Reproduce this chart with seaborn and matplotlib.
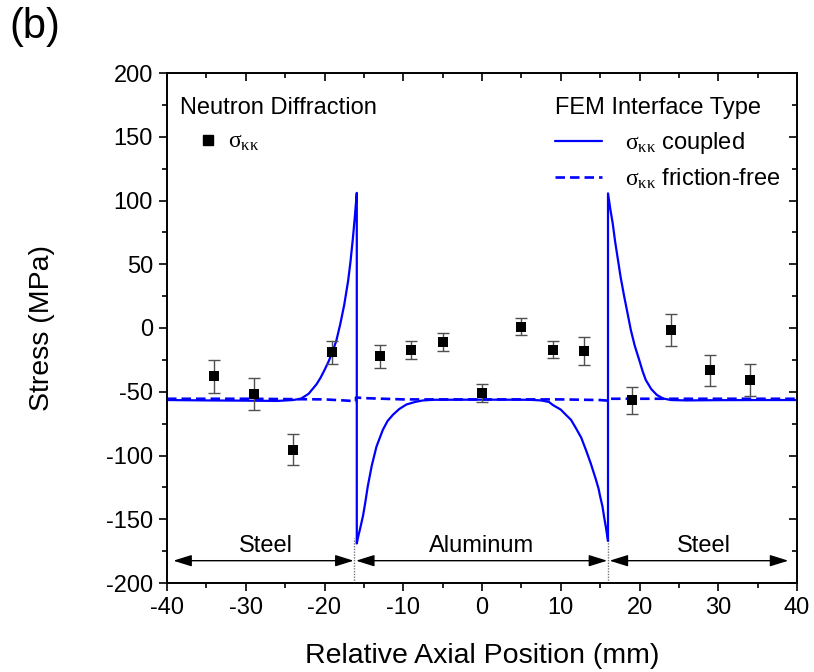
import numpy as np
import pandas as pd
import matplotlib
matplotlib.use("Agg")
import matplotlib.pyplot as plt
from matplotlib.lines import Line2D
import seaborn as sns

# ---- measured data (neutron diffraction) ----
nd_pos = [-34, -29, -24, -19, -13, -9, -5, 0, 5, 9, 13, 19, 24, 29, 34]
nd_stress = [-38.0, -51.6, -95.5, -19.1, -22.3, -17.5, -10.7, -51.0, 1.0, -17.0, -18.3, -56.8, -1.6, -33.2, -40.6]
nd_err = [12.8, 12.6, 12.3, 8.9, 9.3, 7.1, 7.1, 6.8, 6.8, 6.9, 11.1, 10.5, 12.3, 11.9, 12.7]

# ---- FEM, coupled interface ----
cpl_x = [-40, -35, -30, -26, -24, -23, -22, -21, -20.5, -20, -19.5, -19, -18.5, -18, -17.5, -17,
         -16.7, -16.4, -16.15, -15.9, -15.9, -15.7, -15.5, -15.1, -14.8, -14.5, -14.0, -13.4, -12.6,
         -12.0, -11.3, -10.5, -9.6, -8.5, -7.5, -6, 0, 6, 7.5, 8.5, 9, 10, 10.67, 11.3, 11.94, 12.6,
         13.2, 13.8, 14.47, 14.8, 15.0, 15.3, 15.5, 15.75, 16.0, 16.0, 16.3, 16.6, 16.9, 17.2, 17.6,
         18.06, 18.5, 18.9, 19.4, 19.96, 20.4, 20.8, 21.5, 22.2, 23, 24, 26, 30, 35, 40]
cpl_y = [-56.5, -56.8, -57.0, -57.2, -56.5, -55.5, -51.5, -44, -39, -33, -26.5, -19, -10, 3, 18, 37,
         52, 70, 87, 106, -169, -163, -158, -147, -136, -124, -108, -93, -80,
         -73, -68, -63.5, -60, -58, -56.8, -56.3, -56.2, -56.3, -56.8, -58, -60.4, -64, -68.2, -72,
         -78.7, -86, -95.7, -106, -119, -126, -132, -140, -148, -157, -167, 105.6, 93, 82, 68, 56, 40,
         24.6, 11, -1.6, -14, -25, -34, -40.8, -48, -52.5, -55.3, -56.5, -56.8, -56.6, -56.5, -56.5]

# ---- FEM, friction-free interface ----
ff_x = [-40, -30, -20, -17, -16.0, -16.0, -15, -10, 0, 10, 15, 16.0, 16.0, 20, 30, 40]
ff_y = [-55.5, -55.5, -56, -57, -57.5, -54.5, -55, -56, -56, -56, -56.5, -57, -55.5, -55.5, -55.5, -55.5]

# ---- material regions ----
region_names = ["Steel", "Aluminum", "Steel"]
region_start = [-39.2, -16.0, 16.2]
region_end = [-16.3, 15.9, 38.9]
region_label_x = [-27.5, 0, 28.2]
interfaces = [-16.2, 16.0]

sns.set_theme(style="white")
plt.rcParams["font.family"] = ["Liberation Sans", "DejaVu Sans"]
plt.rcParams["mathtext.fontset"] = "custom"
plt.rcParams["mathtext.rm"] = "Liberation Serif"
plt.rcParams["mathtext.it"] = "Liberation Serif"
plt.rcParams["mathtext.bf"] = "Liberation Serif:bold"
plt.rcParams["axes.unicode_minus"] = False
for k in ["text.color", "axes.labelcolor", "xtick.color", "ytick.color", "axes.edgecolor"]:
    plt.rcParams[k] = "black"

fig = plt.figure(figsize=(8.14, 6.72), dpi=100)
ax = fig.add_axes([167 / 814, 1 - 583 / 672, 630 / 814, 510 / 672])

blue = "#0000ff"
df_c = pd.DataFrame({"x": cpl_x, "y": cpl_y})
df_f = pd.DataFrame({"x": ff_x, "y": ff_y})
sns.lineplot(data=df_c, x="x", y="y", sort=False, estimator=None, color=blue, lw=1.6, ax=ax, zorder=2)
sns.lineplot(data=df_f, x="x", y="y", sort=False, estimator=None, color=blue, lw=1.9, ax=ax, zorder=2)
ax.get_lines()[-1].set_dashes([3.6, 1.9])

ax.errorbar(nd_pos, nd_stress, yerr=nd_err, fmt="none", ecolor="#505050", elinewidth=1.0,
            capsize=4, capthick=1.0, zorder=3)
sns.scatterplot(x=nd_pos, y=nd_stress, marker="s", s=62, color="black", edgecolor="black",
                linewidth=0, ax=ax, zorder=4)

# interfaces and region arrows
ax.vlines(interfaces, -200, -165, colors="#777777", linestyles=(0, (1, 1)), lw=1.0, zorder=1)
for name, x0, x1, lx in zip(region_names, region_start, region_end, region_label_x):
    ax.annotate("", xy=(x1, -182.5), xytext=(x0, -182.5),
                arrowprops=dict(arrowstyle="<|-|>,head_length=0.8,head_width=0.25", color="black",
                                lw=1.0, shrinkA=0, shrinkB=0, mutation_scale=14))
    ax.text(lx, -171, name, ha="center", va="center", fontsize=17, color="black")

ax.set_xlim(-40, 40)
ax.set_ylim(-200, 200)
ax.set_xticks(np.arange(-40, 41, 10))
ax.set_xticks(np.arange(-35, 40, 10), minor=True)
ax.set_yticks(np.arange(-200, 201, 50))
ax.set_yticks(np.arange(-175, 200, 50), minor=True)
ax.tick_params(which="major", direction="out", length=6, width=1.2, labelsize=17, color="black", pad=4)
ax.tick_params(which="minor", direction="out", length=3.5, width=1.2, color="black")
ax.tick_params(bottom=True, left=True, which="both")

secx = ax.secondary_xaxis("top")
secx.set_xticks(np.arange(-40, 41, 10))
secx.set_xticks(np.arange(-35, 40, 10), minor=True)
secx.tick_params(which="major", direction="in", length=6, width=1.2, labeltop=False)
secx.tick_params(which="minor", direction="in", length=3.5, width=1.2)
secx.spines["top"].set_visible(False)
secy = ax.secondary_yaxis("right")
secy.set_yticks(np.arange(-200, 201, 50))
secy.set_yticks(np.arange(-175, 200, 50), minor=True)
secy.tick_params(which="major", direction="in", length=6, width=1.2, labelright=False)
secy.tick_params(which="minor", direction="in", length=3.5, width=1.2)
secy.spines["right"].set_visible(False)

for s in ax.spines.values():
    s.set_linewidth(1.4)
    s.set_color("black")
    s.set_visible(True)

ax.set_xlabel("Relative Axial Position (mm)", fontsize=20.5, va="center")
ax.set_ylabel("Stress (MPa)", fontsize=20.5, va="center")
ax.xaxis.set_label_coords(0.5, (583 - 656) / 510)
ax.yaxis.set_label_coords((42 - 167) / 630, 0.5)

fig.text(9 / 814, 1 - 27 / 672, "(b)", fontsize=30, ha="left", va="center")

# legends
h_nd = [Line2D([], [], marker="s", ls="none", color="black", markersize=7.5)]
leg1 = ax.legend(h_nd, [r"$\sigma_{\kappa\kappa}$"], title="Neutron Diffraction", loc="upper left",
                 bbox_to_anchor=(-0.006, 0.985), frameon=False, fontsize=17, title_fontsize=17,
                 alignment="left", handlelength=2.4, handletextpad=-0.35, borderpad=0.2)
ax.add_artist(leg1)
h_fem = [Line2D([], [], color=blue, lw=1.6),
         Line2D([], [], color=blue, lw=1.9, dashes=[3.6, 1.9])]
ax.legend(h_fem, [r"$\sigma_{\kappa\kappa}$ coupled", r"$\sigma_{\kappa\kappa}$ friction-free"],
          title="FEM Interface Type", loc="upper left", bbox_to_anchor=(0.589, 0.985), frameon=False,
          fontsize=17, title_fontsize=17, alignment="left", handlelength=2.0, handletextpad=1.0,
          labelspacing=0.45, borderpad=0.2)

fig.savefig("out.png", dpi=100)
